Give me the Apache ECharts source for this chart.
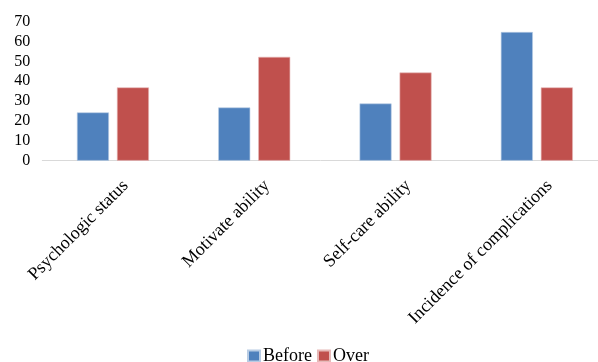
<!DOCTYPE html>
<html><head><meta charset="utf-8">
<script src="https://cdn.jsdelivr.net/npm/echarts@6/dist/echarts.min.js"></script>
<style>html,body{margin:0;padding:0;background:#fff}#c{width:598px;height:362px}</style>
</head><body><div id="c"></div>
<script>
const categories = ['Psychologic status', 'Motivate ability', 'Self-care ability', 'Incidence of complications'];
const seriesNames = ['Before', 'Over'];
const beforeValues = [24.3, 26.8, 28.8, 64.8];
const overValues = [36.9, 52.3, 44.4, 36.9];
const yTicks = [0, 10, 20, 30, 40, 50, 60, 70];

const chart = echarts.init(document.getElementById('c'), null, {renderer: 'canvas'});
const font = '"Liberation Serif", "Times New Roman", serif';
chart.setOption({
  animation: false,
  textStyle: {fontFamily: font},
  legend: {
    data: seriesNames, top: 342, left: 242,
    itemWidth: 12, itemHeight: 11, itemGap: 5,
    textStyle: {fontFamily: font, fontSize: 18, color: '#000', padding: [0, 0, 0, -2]},
    icon: 'rect'
  },
  grid: {left: 42.3, width: 565.2, top: 21.7, bottom: 201.3, containLabel: false, outerBoundsMode: 'none'},
  xAxis: {
    type: 'category', data: categories,
    axisLine: {lineStyle: {color: '#d9d9d9', width: 1}},
    axisTick: {show: false},
    axisLabel: {rotate: 45, interval: 0, margin: 35, padding: [0, -18, 0, 0],
      fontFamily: font, fontSize: 18, color: '#000'}
  },
  yAxis: {
    type: 'value', min: yTicks[0], max: yTicks[yTicks.length - 1], interval: 10,
    axisLine: {show: false}, axisTick: {show: false}, splitLine: {show: false},
    axisLabel: {margin: 12, fontFamily: font, fontSize: 16, color: '#000'}
  },
  series: [
    {name: seriesNames[0], type: 'bar', data: beforeValues, barWidth: 32, barGap: '25%',
     itemStyle: {color: '#4F81BD', borderColor: '#b8cce4', borderWidth: 0.6}},
    {name: seriesNames[1], type: 'bar', data: overValues, barWidth: 32,
     itemStyle: {color: '#C0504D', borderColor: '#e6b9b8', borderWidth: 0.6}}
  ]
});
</script></body></html>
